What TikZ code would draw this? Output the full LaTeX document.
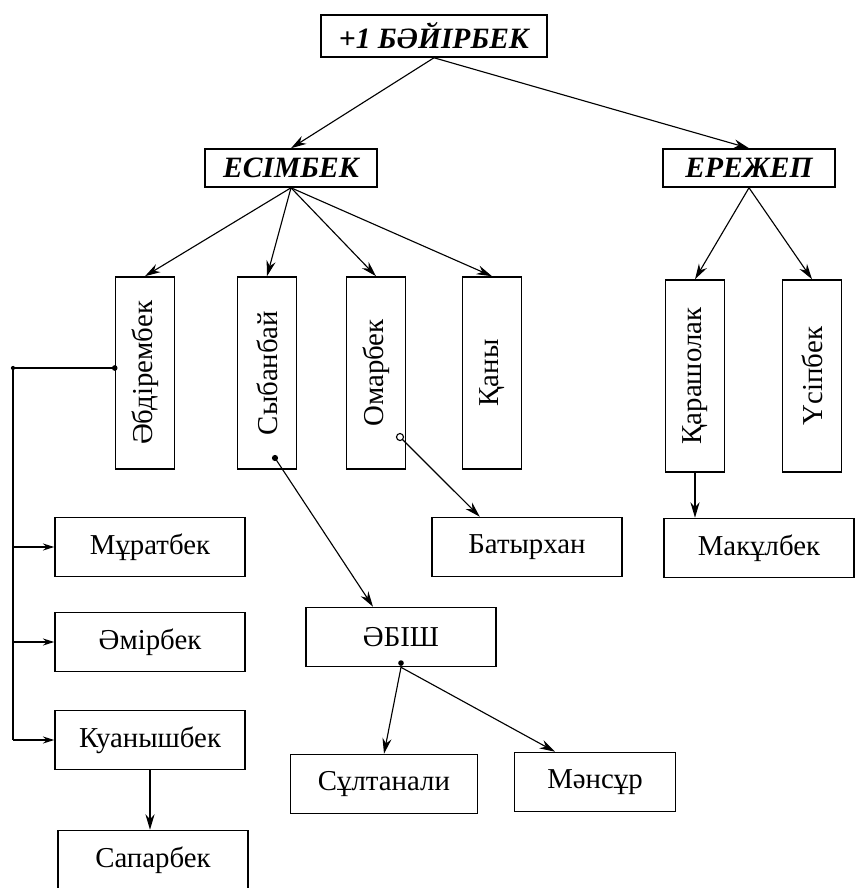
\documentclass[tikz,border=0pt]{standalone}
\usepackage{fontspec}
\setmainfont{Liberation Serif}
\usetikzlibrary{arrows.meta, positioning}

\begin{document}
\begin{tikzpicture}[x=0.025cm, y=-0.025cm,
        headbox/.style={rectangle, draw, line width=1.1pt, inner sep=0pt,
                    minimum height=0.95cm, font=\fontsize{21}{25}\selectfont\bfseries\itshape},
        vbox/.style={rectangle, draw, line width=1.1pt, inner sep=0pt,
                    minimum width=1.475cm, minimum height=4.8cm, font=\fontsize{20.5}{24}\selectfont},
        hbox/.style={rectangle, draw, line width=1.1pt, inner sep=0pt,
                    minimum width=4.75cm, minimum height=1.475cm, font=\fontsize{20.5}{24}\selectfont},
        arr/.style={-{Stealth[length=11pt, width=6.5pt]}, line width=0.8pt},
        barr/.style={-{Stealth[length=8pt, width=5pt]}, line width=0.8pt},
        link/.style={line width=0.8pt},
      ]
        \useasboundingbox (0,0) rectangle (855,888);

        % Top levels
        \node[headbox, minimum width=5.65cm, minimum height=1.05cm] (root) at (434,36) {+1 БӘЙІРБЕК};
        \node[headbox, minimum width=4.3cm] (esim)  at (291,168) {ЕСІМБЕК};
        \node[headbox, minimum width=4.3cm] (erezh) at (749,168) {ЕРЕЖЕП};

        % Sons (vertical boxes)
        \node[vbox] (abdir)  at (145,373) {\rotatebox{90}{Әбдірембек}};
        \node[vbox] (syban)  at (267,373) {\rotatebox{90}{Сыбанбай}};
        \node[vbox] (omar)   at (376,373) {\rotatebox{90}{Омарбек}};
        \node[vbox] (qany)   at (492,373) {\rotatebox{90}{Қаны}};
        \node[vbox] (qarash) at (695,376) {\rotatebox{90}{Қарашолак}};
        \node[vbox] (usip)   at (812,376) {\rotatebox{90}{Үсіпбек}};

        % Grandsons
        \node[hbox] (murat) at (150,547) {Мұратбек};
        \node[hbox] (amir)  at (150,642) {Әмірбек};
        \node[hbox] (quan)  at (150,740) {Куанышбек};
        \node[hbox] (sapar) at (153,860) {Сапарбек};
        \node[hbox] (batyr) at (527,547) {Батырхан};
        \node[hbox] (maqul) at (759,548) {Макұлбек};
        \node[hbox] (abish) at (401,637) {ӘБІШ};
        \node[hbox, minimum width=4.675cm] (sultan) at (384,784) {Сұлтанали};
        \node[hbox, minimum width=4.025cm] (mansur) at (595,782) {Мәнсұр};

        \coordinate (sybdot) at (275,458);
        \coordinate (omdot)  at (400,437);
        \coordinate (brtop)  at (13,368);

        \draw[arr] (root.south) -- (esim.north);
        \draw[arr] (root.south) -- (erezh.north);
        \foreach \kid in {abdir, syban, omar, qany}
          \draw[arr] (esim.south) -- (\kid.north);
        \foreach \kid in {qarash, usip}
          \draw[arr] (erezh.south) -- (\kid.north);

        \draw[arr] (sybdot) -- ([xshift=-0.7cm]abish.north);
        \draw[arr] (omdot) -- ([xshift=-1.18cm]batyr.north);
        \draw[arr] (qarash.south) -- (qarash.south |- maqul.north);
        \draw[arr] (abish.south) -- (sultan.north);
        \draw[arr] (abish.south) -- ([xshift=-1cm]mansur.north);
        \draw[arr] (quan.south) -- (quan.south |- sapar.north);

        % Bracket on the left
        \draw[link] (brtop) -- (brtop -| abdir.west);
        \draw[link] (brtop) -- (brtop |- quan.west);
        \foreach \kid in {murat, amir, quan}
          \draw[barr] (brtop |- \kid.west) -- (\kid.west);

        \fill (brtop) circle[radius=1.5pt];
        \fill (brtop -| abdir.west) circle[radius=2pt];
        \fill (sybdot) circle[radius=2.2pt];
        \draw[link, fill=white] (omdot) circle[radius=2.5pt];
        \fill ([yshift=3pt]abish.south) circle[radius=2pt];
      \end{tikzpicture}
\end{document}
